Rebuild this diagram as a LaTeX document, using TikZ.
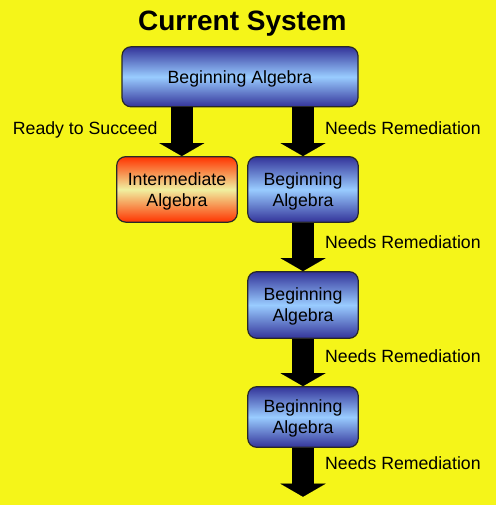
\documentclass[tikz,border=0pt]{standalone}
\usepackage{fontspec}
\setmainfont{Liberation Sans}
\usetikzlibrary{arrows.meta}
\definecolor{bgyellow}{RGB}{245,245,25}
\definecolor{bluedark}{RGB}{51,51,153}
\definecolor{bluelight}{RGB}{153,204,255}
\definecolor{reddark}{RGB}{255,51,0}
\definecolor{redlight}{RGB}{240,240,160}
\definecolor{boxline}{RGB}{40,40,40}
\tikzset{
  bluebox/.style={draw=boxline, line width=1.2pt, rounded corners=9pt,
    top color=bluedark, bottom color=bluedark, middle color=bluelight,
    align=center, inner sep=0pt, text depth=0pt, font=\fontsize{17.7}{21}\selectfont},
  redbox/.style={bluebox, top color=reddark, bottom color=reddark, middle color=redlight},
  bigarrow/.style={line width=22pt, draw=black,
    -{Triangle[width=45pt,length=13pt,line width=0.01pt]}},
  lbl/.style={anchor=base west, inner sep=0pt, font=\fontsize{17.7}{21}\selectfont}
}
\begin{document}
\begin{tikzpicture}[x=1pt,y=-1pt]
\useasboundingbox (0,0) rectangle (496,505);
\fill[bgyellow] (0,0) rectangle (496,505);
\node[anchor=base, inner sep=0pt, font=\bfseries\fontsize{28}{32}\selectfont] (title) at (242.3,30.7) {Current System};
\node[bluebox, minimum width=236pt, minimum height=60pt] (top) at (240,76.8) {Beginning Algebra};
\node[redbox, minimum width=120.6pt, minimum height=65.5pt] (inter) at (177,189.4) {Intermediate\\Algebra};
\node[bluebox, minimum width=110.5pt, minimum height=65.5pt] (b2) at (303,189.4) {Beginning\\Algebra};
\node[bluebox, minimum width=110.5pt, minimum height=66.6pt] (b3) at (303,305) {Beginning\\Algebra};
\node[bluebox, minimum width=110.5pt, minimum height=60.6pt] (b4) at (303,417) {Beginning\\Algebra};
\coordinate (la) at (181.8,0);
\coordinate (end) at (303,496.7);
\draw[bigarrow] (top.south -| la) -- (inter.north -| la);
\draw[bigarrow] (top.south -| b2) -- (b2.north);
\draw[bigarrow] (b2.south) -- (b3.north);
\draw[bigarrow] (b3.south) -- (b4.north);
\draw[bigarrow] (b4.south) -- (end);
\node[lbl] (l0) at (12.7,134.3) {Ready to Succeed};
\node[lbl] (l1) at (325,134.4) {Needs Remediation};
\node[lbl] (l2) at (325,248.1) {Needs Remediation};
\node[lbl] (l3) at (325,362.1) {Needs Remediation};
\node[lbl] (l4) at (325,469.7) {Needs Remediation};
\end{tikzpicture}
\end{document}
